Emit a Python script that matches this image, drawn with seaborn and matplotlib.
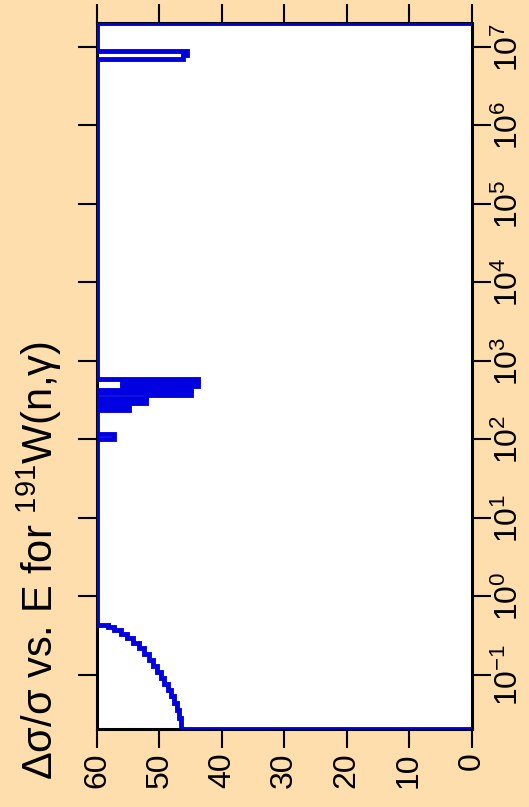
import matplotlib
matplotlib.use("Agg")
import matplotlib.pyplot as plt
from matplotlib.ticker import NullLocator
import pandas as pd
import seaborn as sns

# Bin start energies (eV) and relative uncertainty (%) applying from each energy upward
energy = [0.0205, 0.0205, 0.0283, 0.0358, 0.0440, 0.0540, 0.0644, 0.0768, 0.0916,
          0.109, 0.130, 0.155, 0.185, 0.221, 0.256, 0.296, 0.333, 0.374, 0.408,
          0.439, 100, 116, 238, 267, 288, 314, 338, 364, 391, 421, 453, 481, 517,
          556, 598, 6.93e6, 7.80e6, 8.77e6, 2.02e7]
dsig = [0, 46.6, 46.9, 47.2, 47.6, 48.1, 48.6, 49.2, 49.8,
        50.4, 51.0, 51.7, 52.5, 53.3, 54.2, 55.2, 56.2, 57.2, 58.2,
        60, 57.3, 60, 54.9, 60, 52.2, 60, 52.2, 45.0, 60, 45.0, 56, 43.8, 56,
        43.8, 60, 46.2, 45.6, 60, 0]

e_ticks = [1e-1, 1e0, 1e1, 1e2, 1e3, 1e4, 1e5, 1e6, 1e7]
e_tick_labels = [r"$\mathregular{10^{-1}}$", r"$\mathregular{10^{0}}$", r"$\mathregular{10^{1}}$",
                 r"$\mathregular{10^{2}}$", r"$\mathregular{10^{3}}$", r"$\mathregular{10^{4}}$",
                 r"$\mathregular{10^{5}}$", r"$\mathregular{10^{6}}$", r"$\mathregular{10^{7}}$"]
v_ticks = [60, 50, 40, 30, 20, 10, 0]
v_tick_labels = ["60", "50", "40", "30", "20", "10", "0"]
title = r"Δσ/σ vs. E for $^{191}$W(n,γ)"

sns.set_theme(style="white")
plt.rcParams["font.family"] = ["Liberation Sans", "DejaVu Sans"]
plt.rcParams["mathtext.fontset"] = "custom"
plt.rcParams["mathtext.rm"] = "Liberation Sans"
plt.rcParams["mathtext.it"] = "Liberation Sans:italic"
plt.rcParams["mathtext.default"] = "regular"
plt.rcParams["text.color"] = "black"
plt.rcParams["xtick.color"] = "black"
plt.rcParams["ytick.color"] = "black"

bg = "#FFDEAD"
fig = plt.figure(figsize=(5.29, 8.07), dpi=100, facecolor=bg)
ax = fig.add_axes([97 / 529, 1 - 729 / 807, (471.5 - 97) / 529, (729 - 23) / 807])
ax.set_facecolor("white")
ax.set_yscale("log")

df = pd.DataFrame({"E": energy, "v": dsig})
sns.lineplot(data=df, x="v", y="E", orient="y", sort=False, estimator=None,
             drawstyle="steps-pre", color="#0000E0", lw=3.5, ax=ax, zorder=3,
             solid_joinstyle="miter", solid_capstyle="butt")

ax.set_xlim(60, 0)
ax.set_ylim(0.0205, 2.02e7)
ax.set_xlabel("")
ax.set_ylabel("")
ax.grid(False)

ax.set_yticks(e_ticks)
ax.set_yticklabels(e_tick_labels)
ax.yaxis.set_minor_locator(NullLocator())
ax.set_xticks(v_ticks)
ax.set_xticklabels(v_tick_labels)

ax.tick_params(axis="y", which="major", left=True, right=True, labelleft=False,
               labelright=True, direction="out", length=14, width=1.5,
               labelsize=23, pad=2, labelrotation=90, color="black", labelcolor="black")
ax.tick_params(axis="x", which="major", bottom=True, top=True, labelbottom=True,
               labeltop=False, direction="out", length=14, width=1.5,
               labelsize=23, pad=3, labelrotation=90, color="black", labelcolor="black")
for lab in ax.get_yticklabels():
    lab.set_va("center")
for sp in ax.spines.values():
    sp.set_color("black")
    sp.set_linewidth(2.2)
    sp.set_visible(True)

fig.text(0.075, 0.305, title, rotation=90, ha="center", va="center", fontsize=30,
         color="black")

fig.savefig("out.png", dpi=100, facecolor=bg)
